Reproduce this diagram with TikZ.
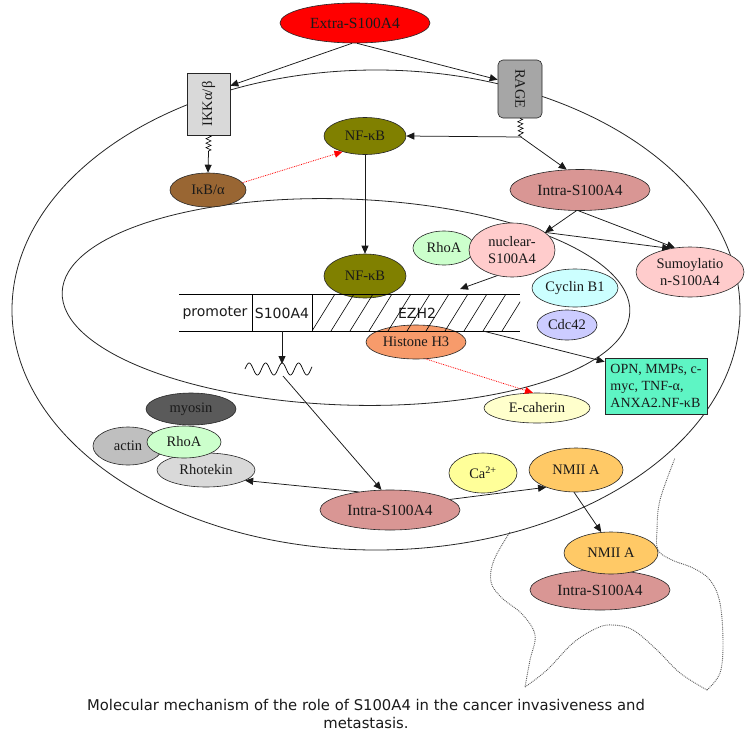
\documentclass[tikz,border=0pt]{standalone}
\usepackage{fontspec}
\setmainfont{Liberation Serif}
\newfontfamily\vsans{DejaVu Sans}
\usetikzlibrary{shapes.geometric,arrows.meta,decorations.pathmorphing}
\newcommand{\myfs}[1]{\fontsize{#1}{#1}\selectfont}
\newcommand{\myfsl}[2]{\fontsize{#1}{#2}\selectfont}
\definecolor{cIKK}{HTML}{D9D9D9}
\definecolor{cRAGE}{HTML}{A6A6A6}
\definecolor{cIkB}{HTML}{996633}
\definecolor{cNF}{HTML}{808000}
\definecolor{cIntra}{HTML}{D99694}
\definecolor{cGreen}{HTML}{CCFFCC}
\definecolor{cPink}{HTML}{FFCCCC}
\definecolor{cCyan}{HTML}{CCFFFF}
\definecolor{cLav}{HTML}{CCCCFF}
\definecolor{cHist}{HTML}{F79B6B}
\definecolor{cEcad}{HTML}{FFFFCC}
\definecolor{cOPN}{HTML}{5EF5C4}
\definecolor{cMyo}{HTML}{5A5A5A}
\definecolor{cActin}{HTML}{BFBFBF}
\definecolor{cRhotek}{HTML}{D9D9D9}
\definecolor{cCa}{HTML}{FFFF99}
\definecolor{cNMII}{HTML}{FFC966}
\definecolor{cText}{HTML}{1A1A1A}
\begin{document}
\begin{tikzpicture}[x=1pt,y=-1pt,
  ell/.style={ellipse, draw=black!85, line width=0.6pt, inner sep=0pt, text=cText, font=\myfs{14.5}},
  boxnode/.style={rectangle, draw=black!85, line width=0.6pt, inner sep=0pt, text=cText, font=\myfs{14.5}},
  arr/.style={-{Triangle[length=8pt,width=7pt]}, line width=0.75pt, draw=black!90},
  redarr/.style={densely dotted, draw=red, line width=0.8pt, -{Triangle[length=8pt,width=7pt, fill=red]}},
  cellline/.style={line width=0.8pt, draw=black!85},
  zz/.style={decorate, decoration={zigzag, segment length=4.5pt, amplitude=2.5pt}, line width=0.6pt},
  dnalabel/.style={font=\vsans\myfs{14}, text=cText, inner sep=0pt},
  pseudo/.style={densely dotted, line width=0.9pt, draw=black!65},
  captext/.style={font=\vsans\myfs{14.8}, text=cText, inner sep=0pt, anchor=base}
]
\useasboundingbox (0,0) rectangle (753,737);
\fill[white] (0,0) rectangle (753,737);

% cell and nucleus
\draw[cellline] (376,310) ellipse [x radius=364pt, y radius=240pt];
\draw[cellline, rotate around={-2:(346,302)}] (346,302) ellipse [x radius=284pt, y radius=103pt];

% pseudopod outline
\draw[pseudo] plot[smooth, tension=0.6] coordinates {(510,532) (494,560) (491,582) (502,598) (522,614) (535,635) (530,660) (525,687)};
\draw[pseudo] plot[smooth, tension=0.6] coordinates {(525,687) (547,670) (573,643) (597,628) (613,625) (633,630) (657,650) (680,673) (707,690)};
\draw[pseudo] plot[smooth, tension=0.6] coordinates {(707,690) (720,673) (723,643) (720,603) (710,580) (693,568) (672,560) (658,550) (657,530) (660,500) (675,458)};

% top nodes
\node[ell, fill=red, minimum width=150pt, minimum height=40pt, font=\myfs{15.5}] (extra) at (355,23) {Extra-S100A4};
\node[boxnode, fill=cIKK, minimum width=43pt, minimum height=62pt] (ikk) at (208.5,104) {\rotatebox{90}{IKKα/β}};
\node[boxnode, fill=cRAGE, rounded corners=5pt, minimum width=44pt, minimum height=58pt] (rage) at (520,89) {\rotatebox{-90}{RAGE}};
\node[ell, fill=cIkB, minimum width=76pt, minimum height=34pt] (ikb) at (208,190) {IκB/α};
\node[ell, fill=cNF, minimum width=82pt, minimum height=37pt] (nfkb1) at (365,136) {NF-κB};
\node[ell, fill=cIntra, minimum width=140pt, minimum height=41pt, font=\myfs{15.5}] (intra1) at (580,190) {Intra-S100A4};

% nucleus nodes
\node[ell, fill=cGreen, minimum width=62pt, minimum height=34pt] (rhoaN) at (444,248) {RhoA};
\node[ell, fill=cPink, minimum width=86pt, minimum height=54pt, align=center, font=\myfsl{14.5}{17}] (nuclear) at (512,250) {nuclear-\\S100A4};
\node[ell, fill=cPink, minimum width=108pt, minimum height=50pt, align=center, font=\myfsl{14.5}{17}] (sumo) at (690,272) {Sumoylatio\\n-S100A4};
\node[ell, fill=cNF, minimum width=82pt, minimum height=44pt] (nfkb2) at (365,276) {NF-κB};
\node[ell, fill=cCyan, minimum width=86pt, minimum height=38pt] (cyclin) at (575,288) {Cyclin B1};
\node[ell, fill=cLav, minimum width=60pt, minimum height=30pt] (cdc42) at (567,325) {Cdc42};
\node[ell, fill=cHist, minimum width=100pt, minimum height=34pt] (histone) at (416,342) {Histone H3};
\node[ell, fill=cEcad, minimum width=106pt, minimum height=30pt] (ecad) at (537,408) {E-caherin};
\node[boxnode, fill=cOPN, minimum width=102pt, minimum height=56pt, align=left, font=\myfsl{14}{17}, inner sep=3pt] (opn) at (656,386) {OPN, MMPs, c-\\myc, TNF-α,\\ANXA2.NF-κB};

% DNA bar
\node[dnalabel] (prom) at (215,313) {promoter};
\node[dnalabel] (s100) at (282,313) {S100A4};
\node[dnalabel] (ezh2) at (417,313) {EZH2};
\draw[line width=0.7pt] (179,294) -- (520,294);
\draw[line width=0.7pt] (179,331) -- (520,331);
\draw[line width=0.7pt] (252,294) -- (252,331);
\draw[line width=0.7pt] (312,294) -- (312,331);
\begin{scope}
  \clip (312,294) rectangle (520,331);
  \foreach \i in {0,...,11} {\draw[line width=0.6pt] ({312+\i*19},331) -- ++(23,-37);}
\end{scope}
\coordinate (ezht) at (460,289);
\coordinate (dnaout) at (483,331);
\coordinate (s100b) at (282,331);
\coordinate (wavetop) at (282,364);
\coordinate (waveout) at (283,376);

% mRNA wave
\draw[line width=0.7pt] plot[domain=0:67, samples=120, smooth] ({245+\x},{369-6*sin(\x*21.818)});

% cytoplasm nodes
\node[ell, fill=cActin, minimum width=70pt, minimum height=38pt] (actin) at (128,446) {actin};
\node[ell, fill=cMyo, minimum width=90pt, minimum height=32pt] (myosin) at (191,409) {myosin};
\node[ell, fill=cRhotek, minimum width=98pt, minimum height=34pt] (rhotekin) at (206,470) {Rhotekin};
\node[ell, fill=cGreen, minimum width=74pt, minimum height=32pt] (rhoaC) at (184,442) {RhoA};
\node[ell, fill=cIntra, minimum width=140pt, minimum height=40pt, font=\myfs{15.5}] (intra2) at (390,510) {Intra-S100A4};
\node[ell, fill=cCa, minimum width=68pt, minimum height=40pt] (ca) at (483,473) {Ca\textsuperscript{2+}};
\node[ell, fill=cNMII, minimum width=94pt, minimum height=44pt] (nmii1) at (576,470) {NMII A};
\node[ell, fill=cIntra, minimum width=140pt, minimum height=40pt, font=\myfs{15.5}] (intra3) at (600,590) {Intra-S100A4};
\node[ell, fill=cNMII, minimum width=94pt, minimum height=42pt] (nmii2) at (611,553) {NMII A};

% connectors
\draw[arr] ([xshift=-3pt]extra.south) -- ([yshift=-13pt]ikk.north east);
\draw[arr] ([xshift=2pt]extra.south) -- ([yshift=-20pt]rage.north west);
\coordinate (ikkz) at (208.5,152);
\draw[zz] (ikk.south) -- (ikkz);
\draw[arr] (ikkz) -- (ikb.north);
\draw[redarr] (ikb.12) -- (nfkb1.215);
\coordinate (ragez) at (521,137);
\draw[zz] (rage.south) -- (ragez);
\draw[arr] (ragez) -- (nfkb1.east);
\draw[arr] (ragez) -- (intra1.123);
\draw[arr] (nfkb1.south) -- (nfkb2.north);
\draw[arr] (intra1.260) -- (nuclear.28);
\draw[arr] (intra1.266) -- (sumo.122);
\draw[arr] (nuclear.28) -- (sumo.130);
\draw[arr] (nuclear.240) -- (ezht);
\draw[arr] (dnaout) -- ([yshift=-4pt]opn.north west);
\draw[redarr] (histone.-60) -- (ecad.105);
\draw[arr] (s100b) -- (wavetop);
\draw[arr] (waveout) -- (intra2.113);
\draw[arr] (intra2.150) -- (rhotekin.-15);
\draw[arr] (intra2.10) -- (nmii1.210);
\draw[arr] (nmii1.265) -- (nmii2.115);

% caption
\node[captext] (cap1) at (366,710) {Molecular mechanism of the role of S100A4 in the cancer invasiveness and};
\node[captext] (cap2) at (366,728) {metastasis.};
\end{tikzpicture}
\end{document}
